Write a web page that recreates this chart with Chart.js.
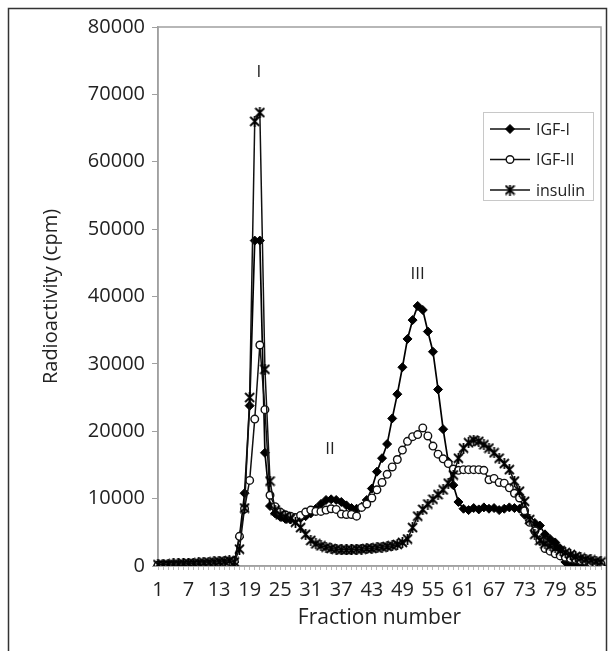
<!DOCTYPE html>
<html>
<head>
<meta charset="utf-8">
<script src="https://cdn.jsdelivr.net/npm/chart.js@4.4.0/dist/chart.umd.min.js"></script>
<style>
  html, body { margin: 0; padding: 0; background: #fff; }
  #wrap { width: 615px; height: 651px; }
</style>
</head>
<body>
<div id="wrap"><canvas id="myChart" width="615" height="651"></canvas></div>
<script>
// fraction numbers (x categories)
var fractions = [1,2,3,4,5,6,7,8,9,10,11,12,13,14,15,16,17,18,19,20,
  21,22,23,24,25,26,27,28,29,30,31,32,33,34,35,36,37,38,39,40,
  41,42,43,44,45,46,47,48,49,50,51,52,53,54,55,56,57,58,59,60,
  61,62,63,64,65,66,67,68,69,70,71,72,73,74,75,76,77,78,79,80,
  81,82,83,84,85,86,87,88];
var tickLabels = [1,7,13,19,25,31,37,43,49,55,61,67,73,79,85];
var yTicks = [0,10000,20000,30000,40000,50000,60000,70000,80000];

// radioactivity (cpm)
var igf1 = [100,100,100,100,150,150,150,200,200,200,250,250,300,300,350,600,
  4300,10800,23800,48300,48300,16800,8900,7800,7300,7000,6900,6900,7100,7400,
  7800,8500,9200,9800,9900,9800,9500,9000,8600,8500,8800,9800,11500,14000,16000,
  18100,21900,25500,29500,33700,36500,38600,38000,34800,31800,26200,20300,15500,12000,9500,
  8500,8300,8600,8400,8700,8500,8600,8300,8500,8700,8600,8500,7600,6800,6400,
  6000,4700,4000,3500,2600,600,100,0,0,0,0,0,0];
var igf2 = [100,100,100,100,100,150,150,150,200,200,200,250,250,300,300,700,
  4400,8500,12700,21800,32800,23200,10500,8800,8000,7600,7400,7200,7500,8000,
  8300,8100,8100,8300,8500,8400,7700,7650,7650,7400,8700,9200,10100,11300,12400,
  13600,14700,15800,17200,18500,19200,19500,20500,19300,17800,16600,15900,15200,14400,14200,
  14300,14300,14300,14300,14200,12800,13000,12400,12300,11600,10800,10100,8200,6500,5200,
  3800,2600,2200,1800,1500,1300,1100,1000,800,700,500,400,300];
var insulin = [200,200,250,300,300,350,400,400,450,500,550,600,650,700,800,600,
  2500,8600,25000,66000,67300,29200,12600,8300,7600,7300,7000,6500,5700,4700,
  3800,3300,3000,2800,2600,2500,2400,2400,2400,2500,2500,2600,2600,2700,2800,
  2900,3000,3200,3500,4000,5700,7400,8400,9200,9900,10600,11300,12300,13500,16000,
  17500,18300,18700,18500,18000,17500,16800,16000,15200,14300,12600,11100,9600,6900,4700,
  3800,3300,3000,2700,2300,2000,1700,1400,1200,1000,900,700,600];

// peak labels: text, fraction, cpm
var peakLabels = [["I", 20.8, 73300], ["II", 34.8, 17400], ["III", 52, 43300]];

var FONT = "'Open Sans', 'DejaVu Sans', sans-serif";
Chart.defaults.font.family = FONT;
Chart.defaults.color = "#222";

// Excel-like star marker (X with a vertical bar)
function makeStar(size) {
  var c = document.createElement("canvas");
  c.width = size; c.height = size;
  var g = c.getContext("2d");
  g.strokeStyle = "#000";
  g.lineWidth = 1.8;
  g.beginPath();
  g.moveTo(1, 1); g.lineTo(size - 1, size - 1);
  g.moveTo(size - 1, 1); g.lineTo(1, size - 1);
  g.moveTo(size / 2, 0); g.lineTo(size / 2, size);
  g.stroke();
  return c;
}
var starImg = makeStar(11);

// frames round the whole picture and the plot area
var framePlugin = {
  id: "frames",
  beforeDraw: function(chart) {
    var ctx = chart.ctx;
    ctx.save();
    ctx.strokeStyle = "#333";
    ctx.lineWidth = 1.5;
    ctx.strokeRect(8.5, 8.5, 598, 700);
    ctx.restore();
  },
  beforeDatasetsDraw: function(chart) {
    var a = chart.chartArea, ctx = chart.ctx;
    ctx.save();
    ctx.strokeStyle = "#a0a0a0";
    ctx.lineWidth = 1.5;
    ctx.strokeRect(a.left, a.top, a.right - a.left, a.bottom - a.top);
    ctx.restore();
  }
};

// I, II, III labels
var peakPlugin = {
  id: "peaks",
  afterDatasetsDraw: function(chart) {
    var ctx = chart.ctx, xs = chart.scales.x, ys = chart.scales.y;
    ctx.save();
    ctx.font = "17px " + FONT;
    ctx.fillStyle = "#222";
    ctx.textAlign = "center";
    ctx.textBaseline = "middle";
    peakLabels.forEach(function(p) {
      ctx.fillText(p[0], xs.getPixelForValue(p[1] - 1), ys.getPixelForValue(p[2]));
    });
    ctx.restore();
  }
};

// boxed legend in the upper right
var legendPlugin = {
  id: "boxLegend",
  afterDraw: function(chart) {
    var ctx = chart.ctx;
    var bx = 483, by = 112, bw = 110, bh = 88;
    ctx.save();
    ctx.fillStyle = "#fff";
    ctx.fillRect(bx, by, bw, bh);
    ctx.strokeStyle = "#c8c8c8";
    ctx.lineWidth = 1;
    ctx.strokeRect(bx + 0.5, by + 0.5, bw, bh);
    var rows = [129, 159.5, 190];
    chart.data.datasets.forEach(function(ds, i) {
      var y = rows[i];
      ctx.strokeStyle = "#111";
      ctx.lineWidth = 1.5;
      ctx.beginPath();
      ctx.moveTo(490, y); ctx.lineTo(530, y);
      ctx.stroke();
      ctx.fillStyle = ds.pointBackgroundColor;
      ctx.strokeStyle = ds.pointBorderColor;
      ctx.lineWidth = ds.pointBorderWidth;
      Chart.helpers.drawPoint(ctx, {
        pointStyle: ds.pointStyle, radius: ds.pointRadius,
        borderWidth: ds.pointBorderWidth, rotation: 0
      }, 510, y);
      ctx.fillStyle = "#222";
      ctx.font = "16px " + FONT;
      ctx.textAlign = "left";
      ctx.textBaseline = "middle";
      ctx.fillText(ds.label, 536, y + 1);
    });
    ctx.restore();
  }
};

var ctx = document.getElementById("myChart").getContext("2d");
var myLineChart = new Chart(ctx, {
  type: "line",
  data: {
    labels: fractions.map(String),
    datasets: [{
      label: "IGF-I",
      data: igf1,
      order: 3,
      borderColor: "#000",
      borderWidth: 1.7,
      pointStyle: "rectRot",
      pointRadius: 4.5,
      pointBackgroundColor: "#000",
      pointBorderColor: "#000",
      pointBorderWidth: 1
    }, {
      label: "IGF-II",
      data: igf2,
      order: 2,
      borderColor: "#111",
      borderWidth: 1.5,
      pointStyle: "circle",
      pointRadius: 3.8,
      pointBackgroundColor: "#fff",
      pointBorderColor: "#111",
      pointBorderWidth: 1.4
    }, {
      label: "insulin",
      data: insulin,
      order: 1,
      borderColor: "#111",
      borderWidth: 1.5,
      pointStyle: starImg,
      pointRadius: 5,
      pointBackgroundColor: "#111",
      pointBorderColor: "#111",
      pointBorderWidth: 1.5
    }]
  },
  options: {
    responsive: false,
    animation: false,
    devicePixelRatio: 1,
    layout: { padding: { left: 0, right: 14, top: 27, bottom: 0 } },
    plugins: { legend: { display: false }, tooltip: { enabled: false } },
    elements: { line: { tension: 0 } },
    scales: {
      x: {
        type: "category",
        offset: false,
        border: { color: "#a0a0a0", width: 1.5 },
        grid: { drawOnChartArea: false, drawTicks: true, tickLength: 4, color: "#bbb" },
        ticks: {
          autoSkip: false,
          maxRotation: 0,
          padding: 8,
          font: { size: 20 },
          callback: function(val, idx) {
            return tickLabels.indexOf(fractions[idx]) >= 0 ? String(fractions[idx]) : "";
          }
        },
        title: {
          display: true,
          text: "Fraction number",
          font: { size: 21 },
          color: "#222",
          padding: { top: 0, bottom: 20 }
        },
        afterFit: function(scale) { scale.height = 85; }
      },
      y: {
        min: 0,
        max: 80000,
        border: { color: "#a0a0a0", width: 1.5 },
        grid: { drawOnChartArea: false, drawTicks: true, tickLength: 6, color: "#a0a0a0" },
        afterBuildTicks: function(scale) {
          scale.ticks = yTicks.map(function(v) { return { value: v }; });
        },
        ticks: {
          padding: 7,
          font: { size: 20 },
          callback: function(v) { return String(v); }
        },
        title: {
          display: true,
          text: "Radioactivity (cpm)",
          font: { size: 20 },
          color: "#222",
          padding: { top: 39, bottom: 0 }
        },
        afterFit: function(scale) { scale.width = 158; }
      }
    }
  },
  plugins: [framePlugin, peakPlugin, legendPlugin]
});
</script>
</body>
</html>
